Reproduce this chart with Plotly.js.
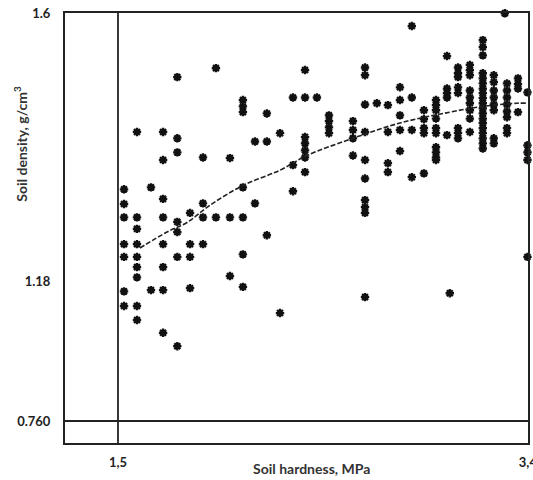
<!DOCTYPE html>
<html>
<head>
<meta charset="utf-8">
<script src="https://cdn.plot.ly/plotly-3.0.1.min.js"></script>
<style>html,body{margin:0;padding:0;background:#fff;}#chart{width:533px;height:480px;}</style>
</head>
<body>
<div id="chart"></div>
<script>
// Soil hardness (MPa) levels, each with the soil densities (g/cm3) observed at that hardness
const hardnessLevels = [1.528, 1.588, 1.653, 1.709, 1.775, 1.834, 1.894, 1.954, 2.019, 2.079,
  2.135, 2.190, 2.251, 2.311, 2.367, 2.422, 2.478, 2.589, 2.645, 2.700, 2.751, 2.807, 2.862,
  2.918, 2.974, 3.025, 3.038, 3.076, 3.131, 3.191, 3.242, 3.293, 3.303, 3.354, 3.398];
const densityByLevel = [
  [1.324, 1.301, 1.280, 1.238, 1.218, 1.164, 1.141],
  [1.414, 1.280, 1.262, 1.238, 1.218, 1.202, 1.186, 1.141, 1.119],
  [1.327, 1.166],
  [1.414, 1.370, 1.309, 1.280, 1.238, 1.202, 1.166, 1.099],
  [1.500, 1.404, 1.382, 1.273, 1.257, 1.218, 1.078],
  [1.287, 1.238, 1.218, 1.169],
  [1.374, 1.302, 1.280, 1.238],
  [1.514, 1.280],
  [1.373, 1.280, 1.188],
  [1.464, 1.454, 1.445, 1.327, 1.280, 1.222, 1.171],
  [1.399, 1.302],
  [1.443, 1.399, 1.252],
  [1.412, 1.130],
  [1.468, 1.362, 1.321],
  [1.511, 1.468, 1.406, 1.396, 1.385, 1.374, 1.351],
  [1.468],
  [1.440, 1.431, 1.421, 1.412],
  [1.431, 1.417, 1.404, 1.377],
  [1.515, 1.503, 1.457, 1.414, 1.370, 1.341, 1.307, 1.296, 1.287, 1.155],
  [1.459],
  [1.456, 1.414, 1.365, 1.351],
  [1.484, 1.464, 1.440, 1.417, 1.384],
  [1.580, 1.468, 1.417, 1.343],
  [1.448, 1.434, 1.420, 1.412, 1.349],
  [1.464, 1.456, 1.448, 1.435, 1.420, 1.412, 1.390, 1.382, 1.374, 1.370],
  [1.533, 1.482, 1.475, 1.468, 1.409],
  [1.161],
  [1.515, 1.506, 1.500, 1.484, 1.475, 1.420, 1.412, 1.404],
  [1.519, 1.511, 1.503, 1.479, 1.468, 1.459, 1.448, 1.435, 1.414],
  [1.558, 1.547, 1.534, 1.506, 1.498, 1.490, 1.482, 1.475, 1.467, 1.459, 1.451, 1.443,
   1.435, 1.428, 1.420, 1.412, 1.404, 1.396, 1.388],
  [1.503, 1.492, 1.479, 1.468, 1.457, 1.448, 1.404, 1.396],
  [1.600],
  [1.490, 1.479, 1.468, 1.457, 1.446, 1.437, 1.420, 1.412],
  [1.498, 1.489, 1.482, 1.445],
  [1.476, 1.393, 1.382, 1.370, 1.218]
];

// Trend curve
const trendHardness = [1.602, 1.727, 1.820, 1.926, 2.079, 2.251, 2.376, 2.589, 2.807, 3.038, 3.191, 3.349, 3.400];
const trendDensity  = [1.232, 1.257, 1.272, 1.299, 1.330, 1.354, 1.377, 1.404, 1.428, 1.445, 1.454, 1.459, 1.459];

// Axis tick labels
const xTickVals = [1.5, 3.4];
const xTickText = ['1,5', '3,4'];
const yTickVals = [0.9607, 1.18, 1.6];
const yTickText = ['0.760', '1.18', '1.6'];
const refHardness = 1.5;
const refDensity = 0.9607;

const hx = [], dy = [];
hardnessLevels.forEach((h, i) => densityByLevel[i].forEach(d => { hx.push(h); dy.push(d); }));

const tickFont = {family: 'Lato, "Open Sans", sans-serif', size: 13, color: '#222', weight: 'bold'};
const titleFont = {family: 'Lato, "Open Sans", sans-serif', size: 14, color: '#333', weight: 'bold'};

const data = [
  {
    x: hx, y: dy, type: 'scatter', mode: 'markers', cliponaxis: false,
    marker: {symbol: 'asterisk-open', size: 7, color: '#111', line: {color: '#111', width: 2.3}},
    hoverinfo: 'x+y'
  },
  {
    x: trendHardness, y: trendDensity, type: 'scatter', mode: 'lines',
    line: {color: '#222', width: 1.6, dash: '5px,2px', shape: 'spline'},
    hoverinfo: 'skip'
  }
];

const layout = {
  width: 533, height: 480,
  margin: {l: 65, r: 5, t: 13, b: 37},
  paper_bgcolor: '#fff', plot_bgcolor: '#fff',
  showlegend: false,
  xaxis: {
    range: [1.2544, 3.4005], showgrid: false, zeroline: false,
    showline: true, mirror: true, linecolor: '#222', linewidth: 2,
    tickmode: 'array', tickvals: xTickVals, ticktext: xTickText,
    ticks: '', ticklabelstandoff: 6, ticklabeloverflow: 'allow', tickfont: tickFont
  },
  yaxis: {
    range: [0.9262, 1.6005], showgrid: false, zeroline: false,
    showline: true, mirror: true, linecolor: '#222', linewidth: 2,
    tickmode: 'array', tickvals: yTickVals, ticktext: yTickText,
    ticks: '', ticklabelstandoff: 10, ticklabeloverflow: 'allow', tickfont: tickFont
  },
  shapes: [
    {type: 'line', xref: 'x', yref: 'paper', x0: refHardness, x1: refHardness, y0: 0, y1: 1,
     line: {color: '#222', width: 1.8}},
    {type: 'line', xref: 'paper', yref: 'y', x0: 0, x1: 1, y0: refDensity, y1: refDensity,
     line: {color: '#222', width: 1.8}}
  ],
  annotations: [
    {text: 'Soil hardness, MPa', xref: 'paper', yref: 'paper', x: (311 - 65) / 463, y: -(469 - 443) / 430,
     xanchor: 'center', yanchor: 'middle', showarrow: false, font: titleFont},
    {text: 'Soil density, g/cm<sup>3</sup>', xref: 'paper', yref: 'paper',
     x: -0.098, y: (443 - 144) / 430, xanchor: 'center', yanchor: 'middle', textangle: -90,
     showarrow: false, font: titleFont}
  ]
};

Plotly.newPlot('chart', data, layout, {staticPlot: true});
</script>
</body>
</html>
